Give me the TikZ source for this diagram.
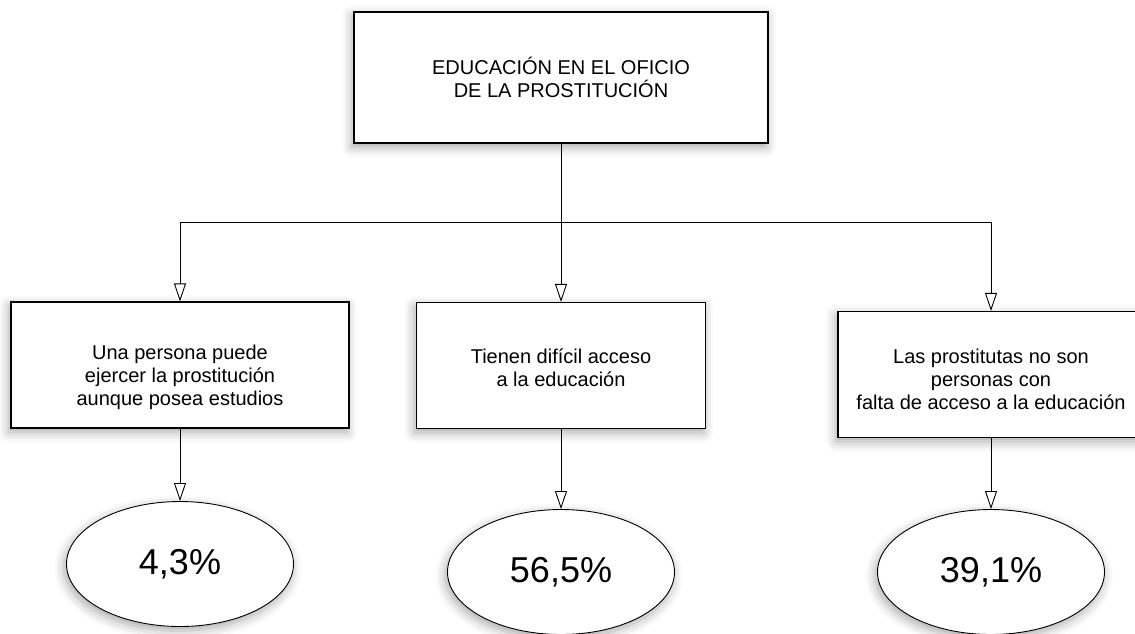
\documentclass[tikz,border=0pt]{standalone}
\usepackage{fontspec}
\setmainfont{Liberation Sans}
\usetikzlibrary{arrows.meta, shapes.geometric, shadows.blur}

\begin{document}
\begin{tikzpicture}[x=1pt, y=-1pt,
        block/.style={rectangle, draw, line width=1.1pt, fill=white, align=center,
            inner sep=0pt, minimum height=126pt, font=\fontsize{20}{23}\selectfont,
            blur shadow={shadow xshift=-2pt, shadow yshift=-4pt, shadow blur radius=10pt, shadow opacity=35}},
        pct/.style={ellipse, draw, line width=0.9pt, fill=white, inner sep=0pt,
            minimum width=227pt, minimum height=125pt, font=\fontsize{36}{40}\selectfont,
            blur shadow={shadow xshift=-2pt, shadow yshift=-4pt, shadow blur radius=10pt, shadow opacity=35}},
        arrow/.style={-{Triangle[open, length=18pt, width=12pt]}, line width=0.9pt}
    ]
        \useasboundingbox (0,0) rectangle (1135,633);

        % Title
        \node[block, minimum width=414pt, minimum height=131pt] (title) at (561,77.5)
            {EDUCACIÓN EN EL OFICIO\\DE LA PROSTITUCIÓN};

        % Answers
        \node[block, minimum width=338pt] (persona) at (180,365)
            {\rule{0pt}{39pt}Una persona puede\\ejercer la prostitución\\aunque posea estudios};
        \node[block, minimum width=289pt] (acceso) at (561,365.5)
            {\rule{0pt}{19pt}Tienen difícil acceso\\a la educación};
        \node[block, minimum width=306pt] (nofalta) at (991,374.5)
            {\rule{0pt}{25pt}Las prostitutas no son\\personas con\\falta de acceso a la educación};

        % Percentages
        \node[pct] (pctA) at (180,564) {4,3\%};
        \node[pct] (pctB) at (561,572) {56,5\%};
        \node[pct] (pctC) at (991,572) {39,1\%};

        % Branches
        \coordinate (bar) at (561,222);
        \draw[arrow] (title.south) -- (acceso.north);
        \draw[arrow] (bar) -| (persona.north);
        \draw[arrow] (bar) -| (nofalta.north);

        % Results
        \draw[arrow] (persona.south) -- (pctA.north);
        \draw[arrow] (acceso.south) -- (pctB.north);
        \draw[arrow] (nofalta.south) -- (pctC.north);
    \end{tikzpicture}
\end{document}
